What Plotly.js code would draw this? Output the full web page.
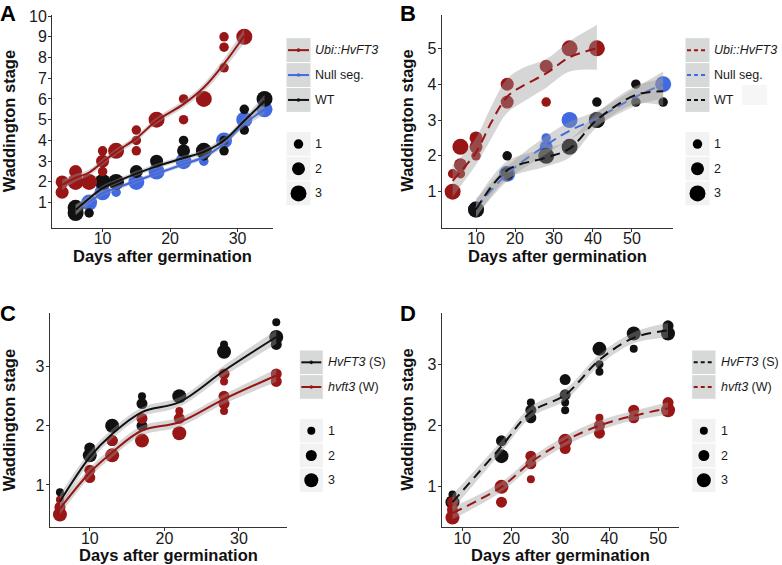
<!DOCTYPE html>
<html>
<head>
<meta charset="utf-8">
<script src="https://cdn.plot.ly/plotly-3.0.1.min.js"></script>
<style>html,body{margin:0;padding:0;background:#fff}#fig{width:782px;height:565px}</style>
</head>
<body>
<div id="fig"></div>
<script>
// ---------- panel A ----------
var aNullDay   = [6,8,10,12,15,18,22,25,28,31,34];
var aNullStage = [0.5,1,1.5,1.5,2,2.5,3,3,4,5,5.5];
var aNullN     = [2,3,3,1,3,3,3,1,3,3,3];
var aWtDay     = [6,6,8,10,12,15,18,22,22,25,25,28,28,31,31,34];
var aWtStage   = [0.75,0.5,0.5,2,2,2.5,3,4,3.5,3.5,3.25,4,3.5,5.5,4.5,6];
var aWtN       = [3,3,1,3,3,2,2,1,2,3,1,1,1,1,1,3];
var aUbiDay    = [4,4,6,6,8,10,10,10,12,15,15,15,18,22,22,25,28,28,28,31];
var aUbiStage  = [2,1.5,2.5,2,2,3.5,3,2.5,3.5,4.5,4,3.5,5,6,5,6,9,8.5,7.5,9];
var aUbiN      = [2,2,2,3,3,1,2,1,3,1,1,1,3,1,1,3,1,1,1,3];

var aUbiFitDay = [4,6,8,10,12,15,18,22,25,28,31];
var aUbiFit    = [1.85,2.2,2.45,2.95,3.45,4.1,4.95,5.75,6.55,7.7,9.05];
var aUbiLo     = [1.6,2.02,2.3,2.8,3.3,3.95,4.8,5.58,6.35,7.45,8.7];
var aUbiHi     = [2.1,2.38,2.6,3.1,3.6,4.25,5.1,5.92,6.75,7.95,9.4];
var aFitDay    = [6,8,10,12,15,18,22,25,28,31,34];
var aNullFit   = [0.65,1.05,1.45,1.7,2.05,2.4,2.85,3.2,3.85,4.8,5.5];
var aNullLo    = [0.4,0.9,1.33,1.59,1.95,2.3,2.74,3.08,3.72,4.65,5.25];
var aNullHi    = [0.9,1.2,1.57,1.81,2.15,2.5,2.96,3.32,3.98,4.95,5.75];
var aWtFit     = [0.65,1.2,1.7,2.0,2.4,2.75,3.15,3.45,4.0,4.95,5.9];
var aWtLo      = [0.4,1.05,1.57,1.88,2.28,2.63,3.03,3.32,3.85,4.78,5.6];
var aWtHi      = [0.9,1.35,1.83,2.12,2.52,2.87,3.27,3.58,4.15,5.12,6.2];

// ---------- panel B ----------
var bNullDay   = [10,18,28,28,34,41,58];
var bNullStage = [0.5,1.5,2.5,2.25,3,3,4];
var bNullN     = [3,3,1,2,3,3,3];
var bWtDay     = [10,18,18,28,34,41,41,51,51,58];
var bWtStage   = [0.5,2,1.5,2,2.25,3,3.5,4,3.5,3.5];
var bWtN       = [3,1,2,3,3,3,1,1,1,1];
var bUbiDay    = [4,4,6,6,6,10,10,10,18,18,28,28,34,41];
var bUbiStage  = [1,1.5,1.5,1.75,2.25,2,2.25,2.5,4,3.5,4.5,3.5,5,5];
var bUbiN      = [3,1,1,2,3,1,2,2,2,2,2,1,3,3];

var bUbiFitDay = [4,6,10,14,18,22,28,34,41];
var bUbiFit    = [1.3,1.55,2.1,2.95,3.65,3.95,4.3,4.75,5.0];
var bUbiLo     = [0.85,1.15,1.75,2.5,3.2,3.5,3.9,4.35,4.4];
var bUbiHi     = [1.75,1.95,2.5,3.4,4.15,4.45,4.7,5.2,5.65];
var bFitDay    = [10,18,28,34,41,51,58];
var bNullFit   = [0.55,1.5,2.3,2.7,3.05,3.65,4.0];
var bNullLo    = [0.3,1.3,2.05,2.45,2.85,3.4,3.6];
var bNullHi    = [0.8,1.7,2.55,2.95,3.25,3.9,4.35];
var bWtFit     = [0.5,1.6,1.95,2.2,3.0,3.7,3.8];
var bWtLo      = [0.25,1.35,1.7,1.95,2.8,3.45,3.4];
var bWtHi      = [0.75,1.85,2.2,2.45,3.2,3.95,4.15];

// ---------- panel C ----------
var cSDay   = [6,10,10,13,13,17,17,17,22,28,28,35,35,35];
var cSStage = [0.875,1.625,1.5,2,1.75,2.5,2.375,2,2.5,3.375,3.25,3.75,3.5,3.375];
var cSN     = [1,2,3,3,2,1,2,2,3,1,3,1,3,2];
var cWDay   = [6,6,6,10,10,13,13,17,17,22,22,22,28,28,28,28,28,35,35];
var cWStage = [0.5,0.625,0.75,1.25,1.125,1.5,1.75,1.75,2.125,2.25,2.125,1.875,2.875,2.75,2.5,2.375,2.25,2.875,2.75];
var cWN     = [3,2,1,2,2,3,2,3,2,1,2,3,2,1,2,2,1,2,2];
var cFitDay = [6,10,13,17,22,28,35];
var cSFit   = [0.72,1.47,1.86,2.23,2.4,2.93,3.5];
var cSLo    = [0.6,1.38,1.78,2.15,2.32,2.84,3.38];
var cSHi    = [0.84,1.56,1.94,2.31,2.48,3.02,3.62];
var cWFit   = [0.6,1.21,1.55,1.92,2.06,2.45,2.85];
var cWLo    = [0.5,1.13,1.47,1.84,1.98,2.37,2.74];
var cWHi    = [0.7,1.29,1.63,2.0,2.14,2.53,2.96];

// ---------- panel D ----------
var dSDay   = [8,8,18,18,24,24,24,31,31,31,31,38,38,38,45,45,52,52];
var dSStage = [0.75,0.875,1.75,1.5,2.375,2.25,2.125,2.75,2.5,2.375,2.25,3.25,3,2.875,3.5,3.25,3.625,3.5];
var dSN     = [3,1,2,3,1,2,2,2,2,1,1,3,1,1,3,1,2,3];
var dWDay   = [8,8,8,18,18,24,24,24,31,31,38,38,38,45,45,52,52];
var dWStage = [0.75,0.625,0.5,1,0.75,1.5,1.375,1.125,1.75,1.625,2.125,2,1.875,2.25,2.125,2.375,2.25];
var dWN     = [2,2,3,3,2,2,2,1,3,2,1,2,2,2,2,2,3];
var dFitDay = [8,18,24,31,38,45,52];
var dSFit   = [0.75,1.66,2.22,2.5,3.07,3.43,3.55];
var dSLo    = [0.63,1.57,2.13,2.41,2.98,3.34,3.43];
var dSHi    = [0.87,1.75,2.31,2.59,3.16,3.52,3.67];
var dWFit   = [0.57,1.0,1.4,1.75,2.0,2.16,2.28];
var dWLo    = [0.47,0.92,1.32,1.67,1.92,2.08,2.18];
var dWHi    = [0.67,1.08,1.48,1.83,2.08,2.24,2.38];

var FONT = '"Liberation Sans", Arial, sans-serif';
var RED = '#981616', BLUE = '#4169e1', BLACK = '#111111';
var BAND = 'rgba(153,153,153,0.4)';
var sizeAB = {1: 9.5, 2: 13, 3: 16};
var sizeCD = {1: 8, 2: 11, 3: 14};

function pointTrace(day, stage, n, color, sizes, ax) {
  return {x: day, y: stage, xaxis: 'x' + ax, yaxis: 'y' + ax, type: 'scatter', mode: 'markers',
    marker: {color: color, opacity: 1, size: n.map(function (k) { return sizes[k]; }), line: {width: 0}},
    hoverinfo: 'skip'};
}
function smoothTraces(day, fit, lo, hi, color, dash, ax) {
  var base = {x: day, xaxis: 'x' + ax, yaxis: 'y' + ax, type: 'scatter', mode: 'lines', hoverinfo: 'skip'};
  return [
    Object.assign({}, base, {y: lo, line: {width: 0, shape: 'spline'}}),
    Object.assign({}, base, {y: hi, line: {width: 0, shape: 'spline'}, fill: 'tonexty', fillcolor: BAND}),
    Object.assign({}, base, {y: fit, line: {color: color, width: 2, dash: dash, shape: 'spline'}})
  ];
}

var data = [].concat(
  pointTrace(aNullDay, aNullStage, aNullN, BLUE, sizeAB, ''),
  pointTrace(aWtDay, aWtStage, aWtN, BLACK, sizeAB, ''),
  pointTrace(aUbiDay, aUbiStage, aUbiN, RED, sizeAB, ''),
  smoothTraces(aUbiFitDay, aUbiFit, aUbiLo, aUbiHi, RED, 'solid', ''),
  smoothTraces(aFitDay, aNullFit, aNullLo, aNullHi, BLUE, 'solid', ''),
  smoothTraces(aFitDay, aWtFit, aWtLo, aWtHi, BLACK, 'solid', ''),

  pointTrace(bNullDay, bNullStage, bNullN, BLUE, sizeAB, '2'),
  pointTrace(bWtDay, bWtStage, bWtN, BLACK, sizeAB, '2'),
  pointTrace(bUbiDay, bUbiStage, bUbiN, RED, sizeAB, '2'),
  smoothTraces(bUbiFitDay, bUbiFit, bUbiLo, bUbiHi, RED, '10px,6px', '2'),
  smoothTraces(bFitDay, bNullFit, bNullLo, bNullHi, BLUE, '10px,6px', '2'),
  smoothTraces(bFitDay, bWtFit, bWtLo, bWtHi, BLACK, '10px,6px', '2'),

  pointTrace(cSDay, cSStage, cSN, BLACK, sizeCD, '3'),
  pointTrace(cWDay, cWStage, cWN, RED, sizeCD, '3'),
  smoothTraces(cFitDay, cSFit, cSLo, cSHi, BLACK, 'solid', '3'),
  smoothTraces(cFitDay, cWFit, cWLo, cWHi, RED, 'solid', '3'),

  pointTrace(dSDay, dSStage, dSN, BLACK, sizeCD, '4'),
  pointTrace(dWDay, dWStage, dWN, RED, sizeCD, '4'),
  smoothTraces(dFitDay, dSFit, dSLo, dSHi, BLACK, '10px,6px', '4'),
  smoothTraces(dFitDay, dWFit, dWLo, dWHi, RED, '10px,6px', '4')
);

// pixel -> paper helpers (figure is 782x565 with no margins)
function P(x) { return x / 782; }
function Q(y) { return 1 - y / 565; }

function axis(dom, range, ticks, anchor, isX) {
  return {domain: dom, range: range, tickvals: ticks, anchor: anchor,
    showline: true, linecolor: '#333', linewidth: 1, mirror: false,
    showgrid: false, zeroline: false, ticks: 'outside', ticklen: 3, tickwidth: 1, tickcolor: '#333',
    ticklabelstandoff: isX ? -7 : -2,
    tickfont: {family: FONT, size: 16, color: '#1a1a1a'}, fixedrange: true};
}

var shapes = [], annotations = [];
function txt(x, y, s, opts) {
  annotations.push(Object.assign({xref: 'paper', yref: 'paper', x: P(x), y: Q(y), text: s, showarrow: false,
    xanchor: 'left', yanchor: 'middle', font: {family: FONT, size: 12.5, color: '#1a1a1a'}}, opts || {}));
}
function lineKeys(x0, x1, top, rowH, rows, dash, textX) {
  rows.forEach(function (r, i) {
    var y0 = top + i * rowH, cy = y0 + rowH / 2;
    shapes.push({type: 'rect', xref: 'paper', yref: 'paper', x0: P(x0), x1: P(x1), y0: Q(y0 + rowH), y1: Q(y0),
      fillcolor: '#d7d9d9', line: {color: '#ffffff', width: 1}});
    shapes.push({type: 'line', xref: 'paper', yref: 'paper', x0: P(x0 + 2), x1: P(x1 - 2), y0: Q(cy), y1: Q(cy),
      line: {color: r.color, width: 2, dash: dash}});
    if (dash === 'solid') {
      shapes.push({type: 'circle', xref: 'paper', yref: 'paper', x0: P((x0 + x1) / 2 - 1.8), x1: P((x0 + x1) / 2 + 1.8),
        y0: Q(cy + 1.8), y1: Q(cy - 1.8), fillcolor: r.color, line: {width: 0}});
    }
    txt(textX, cy, r.label);
  });
}
function sizeKeys(x0, x1, top, rowH, sizes, textX) {
  [1, 2, 3].forEach(function (k, i) {
    var y0 = top + i * rowH, cy = y0 + rowH / 2, cx = (x0 + x1) / 2, r = sizes[k] / 2;
    shapes.push({type: 'rect', xref: 'paper', yref: 'paper', x0: P(x0), x1: P(x1), y0: Q(y0 + rowH), y1: Q(y0),
      fillcolor: '#f2f2f2', line: {color: '#ffffff', width: 1}});
    shapes.push({type: 'circle', xref: 'paper', yref: 'paper', x0: P(cx - r), x1: P(cx + r), y0: Q(cy + r), y1: Q(cy - r),
      fillcolor: '#000', line: {width: 0}});
    txt(textX, cy, String(k));
  });
}

var titleFont = {family: FONT, size: 16.5, color: '#111'};
function axTitles(xc, xy, yx, yc) {
  txt(xc, xy, '<b>Days after germination</b>', {xanchor: 'center', font: titleFont});
  txt(yx, yc, '<b>Waddington stage</b>', {xanchor: 'center', textangle: -90, font: titleFont});
}

// legends
lineKeys(286, 311, 37.7, 24.9, [{color: RED, label: '<i>Ubi::HvFT3</i>'}, {color: BLUE, label: 'Null seg.'}, {color: BLACK, label: 'WT'}], 'solid', 313);
sizeKeys(286, 311, 131.7, 24.7, sizeAB, 313);
lineKeys(685, 710, 37.7, 24.9, [{color: RED, label: '<i>Ubi::HvFT3</i>'}, {color: BLUE, label: 'Null seg.'}, {color: BLACK, label: 'WT'}], '4px,3px', 712);
sizeKeys(685, 710, 131.7, 24.7, sizeAB, 712);
shapes.push({type: 'rect', xref: 'paper', yref: 'paper', x0: P(742), x1: P(767), y0: Q(105), y1: Q(85), fillcolor: '#f6f6f6', line: {width: 0}});
lineKeys(299.3, 323.3, 350, 24.65, [{color: BLACK, label: '<i>HvFT3</i> (S)'}, {color: RED, label: '<i>hvft3</i> (W)'}], 'solid', 326);
sizeKeys(299.3, 323.3, 418.3, 24.8, sizeCD, 326);
lineKeys(691.7, 716, 350, 24.65, [{color: BLACK, label: '<i>HvFT3</i> (S)'}, {color: RED, label: '<i>hvft3</i> (W)'}], '4px,3px', 718.5);
sizeKeys(691.7, 716, 418.3, 24.8, sizeCD, 718.5);

// axis titles
axTitles(162.5, 256, 9, 121.3);
axTitles(557.5, 256, 407.5, 121.3);
axTitles(168.3, 555, 9, 420.3);
axTitles(560.5, 555, 407.5, 420.3);

// panel letters
var letterFont = {family: FONT, size: 22, color: '#000'};
txt(8, 14, '<b>A</b>', {xanchor: 'center', font: letterFont});
txt(408, 14, '<b>B</b>', {xanchor: 'center', font: letterFont});
txt(7.5, 313, '<b>C</b>', {xanchor: 'center', font: letterFont});
txt(408, 313, '<b>D</b>', {xanchor: 'center', font: letterFont});

var yTop = [Q(227.5), Q(15)], yBot = [Q(527.3), Q(313.3)];
var layout = {
  width: 782, height: 565,
  margin: {l: 0, r: 0, t: 0, b: 0},
  paper_bgcolor: '#fff', plot_bgcolor: '#fff',
  showlegend: false,
  font: {family: FONT},
  xaxis:  axis([P(52), P(273.3)], [2.5, 35.3], [10, 20, 30], 'y', true),
  yaxis:  axis(yTop, [-0.2, 10.05], [1, 2, 3, 4, 5, 6, 7, 8, 9, 10], 'x'),
  xaxis2: axis([P(441.7), P(673.3)], [1.2, 60.6], [10, 20, 30, 40, 50], 'y2', true),
  yaxis2: axis(yTop, [0, 5.93], [1, 2, 3, 4, 5], 'x2'),
  xaxis3: axis([P(49.5), P(286.7)], [4.6, 36.4], [10, 20, 30], 'y3', true),
  yaxis3: axis(yBot, [0.285, 3.9], [1, 2, 3], 'x3'),
  xaxis4: axis([P(441.7), P(679.3)], [5.8, 54.3], [10, 20, 30, 40, 50], 'y4', true),
  yaxis4: axis(yBot, [0.34, 3.83], [1, 2, 3], 'x4'),
  shapes: shapes,
  annotations: annotations
};

Plotly.newPlot('fig', data, layout, {staticPlot: true, displayModeBar: false});
</script>
</body>
</html>
